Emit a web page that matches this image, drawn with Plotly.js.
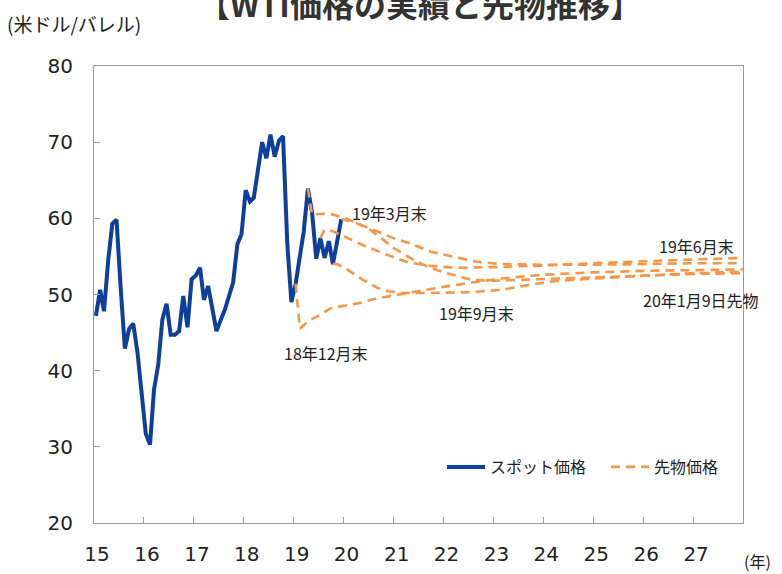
<!DOCTYPE html>
<html>
<head>
<meta charset="utf-8">
<script src="https://cdn.plot.ly/plotly-3.0.1.min.js"></script>
<style>html,body{margin:0;padding:0;background:#fff;}#chart{width:782px;height:574px;}</style>
</head>
<body>
<div id="chart"></div>
<script>
// ---- Spot price (monthly, US$/bbl) ----
const spotYears = [2015, 2016, 2017, 2018, 2019];
const spot2015 = [47.2, 50.6, 47.8, 54.5, 59.3, 59.8, 50.9, 42.9, 45.5, 46.2, 42.4, 37.2];
const spot2016 = [31.7, 30.3, 37.5, 40.8, 46.7, 48.8, 44.7, 44.7, 45.2, 49.8, 45.7, 52.0];
const spot2017 = [52.5, 53.5, 49.3, 51.1, 48.5, 45.2, 46.6, 48.0, 49.8, 51.6, 56.6, 57.9];
const spot2018 = [63.7, 62.2, 62.7, 66.3, 70.0, 67.9, 71.0, 68.1, 70.2, 70.8, 56.7, 49.0];
const spot2019 = [51.4, 55.0, 58.2, 63.9, 60.8, 54.7, 57.4, 54.8, 57.0, 54.0, 57.0, 59.9];
const monthLabels = ['01','02','03','04','05','06','07','08','09','10','11','12'];

// ---- Futures curves (date, price) ----
const dec18Dates = ['2019-01-15','2019-02-15','2019-04-15','2019-07-01','2019-10-01','2020-01-01','2020-05-01','2020-09-01','2021-01-01','2021-07-01','2022-01-01','2022-07-01','2023-03-01','2024-01-01','2025-01-01','2026-01-01','2027-01-01','2027-12-31'];
const dec18Vals  = [51.4, 45.5, 46.5, 47.2, 48.2, 48.5, 48.9, 49.5, 49.9, 50.4, 51.0, 51.5, 52.1, 52.6, 52.9, 53.1, 53.2, 53.3];

const mar19Dates = ['2019-04-15','2019-05-15','2019-08-01','2019-10-15','2020-01-01','2020-07-15','2021-01-01','2021-05-01','2021-10-01','2022-04-01','2022-09-01','2023-03-01','2024-01-01','2025-01-01','2026-01-01','2027-01-01','2027-12-31'];
const mar19Vals  = [63.9, 60.5, 60.6, 60.5, 60.1, 58.6, 57.4, 56.7, 55.6, 54.9, 54.3, 54.0, 53.9, 53.9, 54.0, 54.1, 54.1];

const jun19Dates = ['2019-07-15','2019-08-15','2019-10-15','2020-02-01','2020-06-01','2020-11-15','2021-04-01','2021-09-01','2022-04-01','2023-01-01','2024-01-01','2025-01-01','2026-01-01','2027-01-01','2027-12-31'];
const jun19Vals  = [57.4, 58.5, 58.3, 57.4, 56.4, 55.2, 54.3, 53.8, 53.5, 53.6, 53.8, 54.1, 54.4, 54.6, 54.8];

const sep19Dates = ['2019-10-15','2019-11-15','2020-01-25','2020-05-15','2020-09-01','2020-12-01','2021-03-01','2021-10-01','2022-07-01','2023-03-01','2023-09-01','2024-03-01','2025-01-01','2026-01-01','2027-01-01','2027-12-31'];
const sep19Vals  = [54.0, 54.0, 53.3, 52.0, 50.9, 50.4, 50.2, 50.2, 50.3, 50.6, 51.2, 51.7, 52.1, 52.5, 52.8, 53.0];

const jan20Dates = ['2019-12-15','2020-02-15','2020-04-01','2020-07-15','2021-01-01','2021-06-01','2021-09-01','2022-01-01','2022-05-01','2022-08-01','2023-01-01','2023-07-01','2024-03-01','2025-01-01','2026-01-01','2027-01-01','2027-12-31'];
const jan20Vals  = [59.9, 59.6, 59.4, 58.5, 56.1, 54.5, 53.7, 52.9, 52.3, 51.9, 51.8, 51.9, 52.1, 52.3, 52.5, 52.7, 52.8];

// ---- Tick labels ----
const xTickVals = ['2015-01-01','2016-01-01','2017-01-01','2018-01-01','2019-01-01','2020-01-01','2021-01-01','2022-01-01','2023-01-01','2024-01-01','2025-01-01','2026-01-01','2027-01-01'];
const xTickText = ['15','16','17','18','19','20','21','22','23','24','25','26','27'];

const spotByYear = [spot2015, spot2016, spot2017, spot2018, spot2019];
const spotX = [], spotY = [];
spotYears.forEach((yr, i) => {
  spotByYear[i].forEach((v, m) => { spotX.push(yr + '-' + monthLabels[m] + '-15'); spotY.push(v); });
});

const ORANGE = '#F79646';
const BLUE = '#0F3F9C';
const futDash = '9px,6px';

function fut(x, y, show) {
  return {x: x, y: y, type: 'scatter', mode: 'lines', name: '先物価格', showlegend: show,
          line: {color: ORANGE, width: 2.6, dash: futDash}, hoverinfo: 'skip'};
}

const traces = [
  {x: spotX, y: spotY, type: 'scatter', mode: 'lines', name: 'スポット価格',
   line: {color: BLUE, width: 4}},
  fut(dec18Dates, dec18Vals, true),
  fut(mar19Dates, mar19Vals, false),
  fut(jun19Dates, jun19Vals, false),
  fut(sep19Dates, sep19Vals, false),
  fut(jan20Dates, jan20Vals, false)
];

const L = 94, R = 743, T = 66, B = 523;
const px = x => (x - L) / (R - L);
const py = y => (B - y) / (B - T);
const JP = '"Noto Sans CJK JP", "Noto Sans", sans-serif';
const TXT = '#222';

function lab(text, x, y, anchor, size) {
  return {text: text, xref: 'paper', yref: 'paper', x: px(x), y: py(y), xanchor: anchor || 'center',
          yanchor: 'middle', showarrow: false, font: {family: JP, size: size || 16, color: TXT}};
}

const layout = {
  width: 782, height: 574,
  margin: {l: L, r: 782 - R, t: T, b: 574 - B, pad: 0, autoexpand: false},
  paper_bgcolor: '#fff', plot_bgcolor: '#fff',
  title: {text: '<b>【WTI価格の実績と先物推移】</b>', font: {family: JP, size: 32, color: '#333'},
          xref: 'paper', x: px(420), xanchor: 'center', yref: 'container', y: 1 - 5.5 / 574, yanchor: 'middle'},
  xaxis: {type: 'date', range: ['2015-01-01', '2028-01-01'], tickmode: 'array', tickvals: xTickVals, ticktext: xTickText,
          ticks: 'inside', ticklen: 6, tickcolor: '#999', showline: true, linecolor: '#999', linewidth: 1, mirror: true,
          showgrid: false, zeroline: false, tickfont: {family: '"DejaVu Sans", sans-serif', size: 20, color: TXT},
          ticklabelstandoff: 13, ticklabelshift: 3},
  yaxis: {range: [20, 80], tickmode: 'linear', tick0: 20, dtick: 10,
          ticks: 'inside', ticklen: 6, tickcolor: '#999', showline: true, linecolor: '#999', linewidth: 1, mirror: true,
          showgrid: false, zeroline: false, tickfont: {family: '"DejaVu Sans", sans-serif', size: 20, color: TXT},
          ticklabelstandoff: 16},
  showlegend: true,
  legend: {orientation: 'h', x: px(442), xanchor: 'left', y: py(467), yanchor: 'middle',
           font: {family: JP, size: 16, color: TXT}, bgcolor: 'rgba(0,0,0,0)', itemwidth: 38,
           entrywidth: 111, entrywidthmode: 'pixels', traceorder: 'normal'},
  annotations: [
    lab('(米ドル/バレル)', 5, 23, 'left', 19),
    lab('(年)', 742, 561, 'left', 16),
    lab('19年3月末', 389, 213),
    lab('19年6月末', 696, 246),
    lab('18年12月末', 326, 353),
    lab('19年9月末', 476, 313),
    lab('20年1月9日先物', 701, 300)
  ]
};

Plotly.newPlot('chart', traces, layout, {displayModeBar: false, staticPlot: true});
</script>
</body>
</html>
